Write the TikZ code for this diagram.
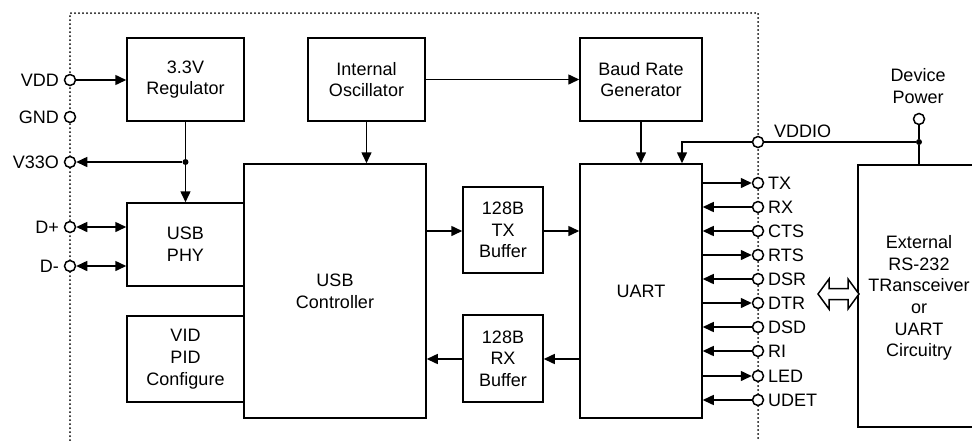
\documentclass[tikz,border=0pt]{standalone}
\usepackage{fontspec}
\setmainfont{Liberation Sans}
\usetikzlibrary{arrows.meta}
\begin{document}
\begin{tikzpicture}[x=1pt,y=-1pt,
  font=\fontsize{18}{21.7}\selectfont,
  box/.style={draw, line width=1.5pt, inner sep=0pt, align=center},
  pinc/.style={circle, draw, fill=white, line width=1.5pt, minimum size=11pt, inner sep=0pt},
  wire/.style={line width=1.5pt},
  arr/.style={wire, -{Triangle[length=11pt,width=10pt]}},
  darr/.style={wire, {Triangle[length=11pt,width=10pt]}-{Triangle[length=11pt,width=10pt]}},
  bound/.style={line width=2pt, line cap=round, dash pattern=on 0pt off 4pt},
  lbl/.style={inner sep=0pt},
  jdot/.style={circle, fill, inner sep=0pt, minimum size=6pt}]
\useasboundingbox (0,0) rectangle (972,440);

% chip boundary
\draw[bound] (70,440) -- (70,13) -- (758,13) -- (758,440);

% blocks
\node[box, minimum width=117pt, minimum height=83pt] (reg) at (185.5,79.5) {3.3V\\Regulator};
\node[box, minimum width=117pt, minimum height=83pt] (osc) at (366.5,79.5) {Internal\\Oscillator};
\node[box, minimum width=122pt, minimum height=83pt] (baud) at (641,79.5) {Baud Rate\\Generator};
\node[box, minimum width=182pt, minimum height=254pt] (usbc) at (335,291) {USB\\Controller};
\node[box, minimum width=117pt, minimum height=83pt] (phy) at (185.5,244.5) {USB\\PHY};
\node[box, minimum width=117pt, minimum height=86pt] (vid) at (185.5,359) {VID\\PID\\Configure};
\node[box, minimum width=80pt, minimum height=86pt] (txb) at (503,230) {128B\\TX\\Buffer};
\node[box, minimum width=80pt, minimum height=87pt] (rxb) at (503,358.5) {128B\\RX\\Buffer};
\node[box, minimum width=122pt, minimum height=254pt] (uart) at (641,291) {UART};

% external circuitry (open at the right edge)
\coordinate (extTL) at (858,165);
\coordinate (extBL) at (858,427);
\draw[wire] (980,165) -- (extTL) -- (extBL) -- (980,427);
\node[lbl, align=center] (ext) at (919,298) {External\\RS-232\\TRansceiver\\or\\UART\\Circuitry};

% left pins
\node[pinc] (vdd) at (70,80) {};
\node[pinc] (gnd) at (70,117) {};
\node[pinc] (v33o) at (70,162) {};
\node[pinc] (dp) at (70,227) {};
\node[pinc] (dm) at (70,266) {};
\node[lbl, anchor=base east] (vdd-l) at (59,86.4) {VDD};
\node[lbl, anchor=base east] (gnd-l) at (59,123.4) {GND};
\node[lbl, anchor=base east] (v33o-l) at (59,168.4) {V33O};
\node[lbl, anchor=base east] (dp-l) at (59,233.4) {D+};
\node[lbl, anchor=base east] (dm-l) at (59,272.4) {D-};

% left connections
\draw[arr] (vdd) -- (reg.west |- vdd);
\node[jdot] (j1) at (185.5,162) {};
\draw[arr] (reg.south) -- (phy.north);
\draw[arr] (j1) -- (v33o);
\draw[darr] (dp) -- (phy.west |- dp);
\draw[darr] (dm) -- (phy.west |- dm);

% internal connections
\draw[arr] (osc.east) -- (baud.west);
\draw[arr] (osc.south) -- (usbc.north -| osc.south);
\draw[arr] (baud.south) -- (uart.north -| baud.south);
\draw[arr] (usbc.east |- 0,231) -- (txb.west |- 0,231);
\draw[arr] (txb.east |- 0,231) -- (uart.west |- 0,231);
\draw[arr] (uart.west |- 0,359) -- (rxb.east |- 0,359);
\draw[arr] (rxb.west |- 0,359) -- (usbc.east |- 0,359);

% VDDIO and device power
\node[pinc] (vddio) at (758,142) {};
\node[lbl, anchor=base west] (vddio-l) at (774,137) {VDDIO};
\coordinate (vc) at (682,142);
\draw[arr] (vddio) -- (vc) -- (uart.north -| vc);
\node[jdot] (j2) at (919,142) {};
\node[pinc] (dpw) at (919,119) {};
\node[lbl, align=center] (dpw-l) at (918,86) {Device\\Power};
\draw[wire] (vddio) -- (j2);
\draw[wire] (dpw) -- (j2) -- (j2 |- extTL);

% right pins
\foreach \n/\t/\yy in {tx/TX/183, rx/RX/207, cts/CTS/231, rts/RTS/255, dsr/DSR/279, dtr/DTR/303, dsd/DSD/327, ri/RI/351, led/LED/376, udet/UDET/400}{
  \node[pinc] (\n) at (758,\yy) {};
  \node[lbl, anchor=base west] (\n-l) at (768,\yy+6.4) {\t};
}
\foreach \n in {tx, rts, dtr, led}{
  \draw[arr] (uart.east |- \n) -- (\n);
}
\foreach \n in {rx, cts, dsr, dsd, ri, udet}{
  \draw[arr] (\n) -- (uart.east |- \n);
}

% bidirectional hollow arrow
\draw[line width=1.5pt, fill=white] (818,294) -- (829,279) -- (829,288.5) -- (848,288.5) -- (848,279) -- (859,294) -- (848,309) -- (848,299.5) -- (829,299.5) -- (829,309) -- cycle;
\end{tikzpicture}
\end{document}
